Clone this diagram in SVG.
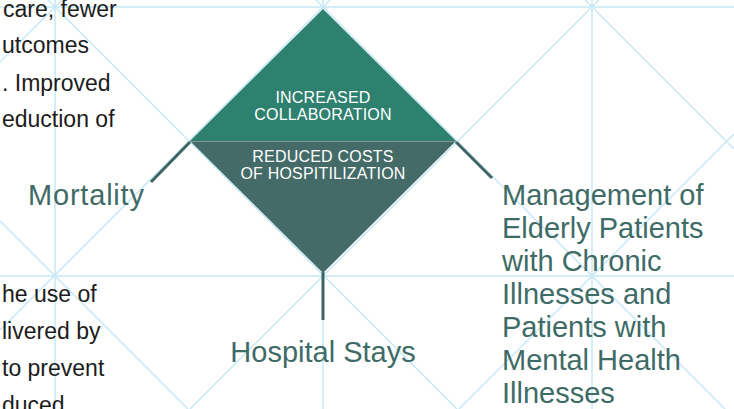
<svg xmlns="http://www.w3.org/2000/svg" width="734" height="409" viewBox="0 0 734 409">
  <style>
    .grid { stroke: #c6e8f6; stroke-width: 1.5; fill: none; }
    .conn { stroke: #3d6562; stroke-width: 3; fill: none; }
    .label { font-family: "Liberation Sans", Arial, sans-serif; font-size: 29px; fill: #3f6b67; }
    .body { font-family: "Liberation Sans", Arial, sans-serif; font-size: 23px; fill: #1c1c1c; }
    .dtext { font-family: "Liberation Sans", Arial, sans-serif; font-size: 16px; fill: #ffffff; letter-spacing: 0.2px; }
  </style>
  <rect x="0" y="0" width="734" height="409" fill="#ffffff"/>

  <g id="grid" class="grid">
    <line x1="0" y1="7" x2="734" y2="7"/>
    <line x1="0" y1="276" x2="734" y2="276"/>
    <line x1="55" y1="0" x2="55" y2="409"/>
    <line x1="323" y1="0" x2="323" y2="409"/>
    <line x1="592" y1="0" x2="592" y2="409"/>
    <line x1="0" y1="62" x2="62" y2="0"/>
    <line x1="0" y1="330" x2="330" y2="0"/>
    <line x1="190" y1="409" x2="599" y2="0"/>
    <line x1="459" y1="409" x2="734" y2="134"/>
    <line x1="0" y1="221" x2="188" y2="409"/>
    <line x1="48" y1="0" x2="457" y2="409"/>
    <line x1="316" y1="0" x2="725" y2="409"/>
    <line x1="585" y1="0" x2="734" y2="149"/>
  </g>

  <g id="left-text" class="body">
    <text x="3" y="17">care, fewer</text>
    <text x="2" y="53">utcomes</text>
    <text x="2" y="91">. Improved</text>
    <text x="2" y="127">eduction of</text>
    <text x="2" y="302">he use of</text>
    <text x="2" y="339">livered by</text>
    <text x="2" y="376">to prevent</text>
    <text x="2" y="413">duced</text>
  </g>

  <g id="connectors">
    <line class="conn" x1="190" y1="142" x2="151" y2="182"/>
    <line class="conn" x1="456" y1="142" x2="492" y2="178"/>
    <line class="conn" x1="323" y1="272" x2="323" y2="320"/>
  </g>

  <g id="diamond">
    <polygon points="323,9 456,141 190,141" fill="#2e806f"/>
    <polygon points="190,141 456,141 323,273" fill="#446b67"/>
    <line x1="190" y1="141.5" x2="456" y2="141.5" stroke="#7c9693" stroke-width="1"/>
    <text class="dtext" x="323" y="103" text-anchor="middle">INCREASED</text>
    <text class="dtext" x="323" y="120" text-anchor="middle">COLLABORATION</text>
    <text class="dtext" x="323" y="162" text-anchor="middle">REDUCED COSTS</text>
    <text class="dtext" x="323" y="179" text-anchor="middle">OF HOSPITILIZATION</text>
  </g>

  <g id="mortality">
    <text class="label" x="28" y="205" style="letter-spacing:0.8px">Mortality</text>
  </g>

  <g id="hospital-stays">
    <text class="label" x="323" y="362" text-anchor="middle">Hospital Stays</text>
  </g>

  <g id="management">
    <text class="label" x="502" y="205">Management of</text>
    <text class="label" x="502" y="238">Elderly Patients</text>
    <text class="label" x="502" y="271">with Chronic</text>
    <text class="label" x="502" y="304">Illnesses and</text>
    <text class="label" x="502" y="337">Patients with</text>
    <text class="label" x="502" y="370">Mental Health</text>
    <text class="label" x="502" y="403">Illnesses</text>
  </g>
</svg>
